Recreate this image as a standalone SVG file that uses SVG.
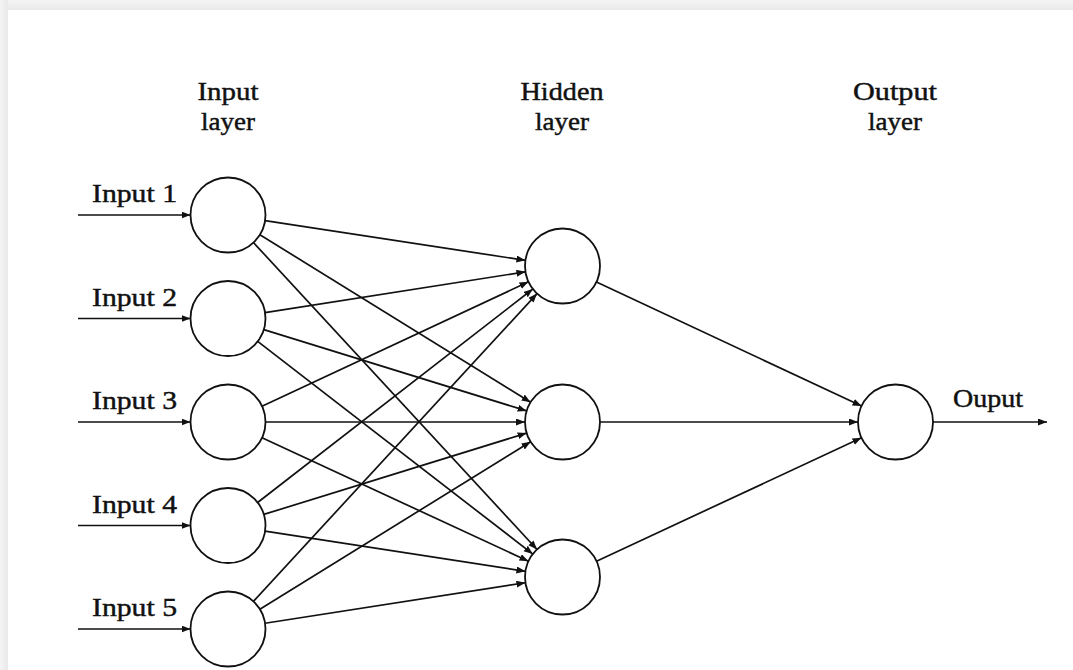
<svg xmlns="http://www.w3.org/2000/svg" width="1073" height="670" viewBox="0 0 1073 670">
  <defs>
    <marker id="tip" markerUnits="userSpaceOnUse" markerWidth="10" markerHeight="8" refX="9" refY="3.5" orient="auto">
      <path d="M0,0 L9,3.5 L0,7 Z" fill="#111"/>
    </marker>
    <linearGradient id="topEdge" x1="0" y1="0" x2="0" y2="1">
      <stop offset="0" stop-color="#f4f4f4"/>
      <stop offset="1" stop-color="#e9e9e9"/>
    </linearGradient>
    <linearGradient id="leftEdge" x1="0" y1="0" x2="1" y2="0">
      <stop offset="0" stop-color="#f4f4f4"/>
      <stop offset="1" stop-color="#e9e9e9"/>
    </linearGradient>
  </defs>
  <style>
    .node { fill: #fff; stroke: #111; stroke-width: 1.8; }
    .edge { stroke: #111; stroke-width: 1.7; fill: none; marker-end: url(#tip); }
    .lbl { font-family: "Liberation Serif", "DejaVu Serif", serif; font-size: 26px; fill: #111; stroke: #111; stroke-width: 0.45; }
    .head { text-anchor: middle; }
  </style>

  <!-- page frame -->
  <rect x="0" y="0" width="1073" height="670" fill="#f2f2f2"/>
  <rect x="0" y="0" width="1073" height="10" fill="url(#topEdge)"/>
  <rect x="0" y="0" width="8" height="670" fill="url(#leftEdge)"/>
  <rect x="8" y="10" width="1065" height="660" fill="#ffffff"/>

  <!-- layer headings -->
  <g id="heading-input">
    <text class="lbl head" x="228" y="100" textLength="61" lengthAdjust="spacingAndGlyphs">Input</text>
    <text class="lbl head" x="228" y="130" textLength="54" lengthAdjust="spacingAndGlyphs">layer</text>
  </g>
  <g id="heading-hidden">
    <text class="lbl head" x="562" y="100" textLength="83" lengthAdjust="spacingAndGlyphs">Hidden</text>
    <text class="lbl head" x="562" y="130" textLength="54" lengthAdjust="spacingAndGlyphs">layer</text>
  </g>
  <g id="heading-output">
    <text class="lbl head" x="895" y="100" textLength="84" lengthAdjust="spacingAndGlyphs">Output</text>
    <text class="lbl head" x="895" y="130" textLength="54" lengthAdjust="spacingAndGlyphs">layer</text>
  </g>

  <!-- connectors -->
  <g id="connectors">
    <!-- external inputs -->
    <line class="edge" x1="78" y1="215" x2="190.5" y2="215"/>
    <line class="edge" x1="78" y1="318.5" x2="190.5" y2="318.5"/>
    <line class="edge" x1="78" y1="422" x2="190.5" y2="422"/>
    <line class="edge" x1="78" y1="525.5" x2="190.5" y2="525.5"/>
    <line class="edge" x1="78" y1="629" x2="190.5" y2="629"/>
    <!-- input 1 -> hidden -->
    <line class="edge" x1="265.07" y1="220.65" x2="525.43" y2="260.35"/>
    <line class="edge" x1="259.89" y1="234.73" x2="530.61" y2="402.27"/>
    <line class="edge" x1="253.45" y1="242.54" x2="537.05" y2="549.46"/>
    <!-- input 2 -> hidden -->
    <line class="edge" x1="265.05" y1="312.69" x2="525.45" y2="271.81"/>
    <line class="edge" x1="263.82" y1="329.58" x2="526.68" y2="410.92"/>
    <line class="edge" x1="257.67" y1="341.43" x2="532.83" y2="554.07"/>
    <!-- input 3 -> hidden -->
    <line class="edge" x1="261.99" y1="406.15" x2="528.51" y2="281.85"/>
    <line class="edge" x1="265.5" y1="422" x2="525" y2="422"/>
    <line class="edge" x1="262.02" y1="437.77" x2="528.48" y2="561.23"/>
    <!-- input 4 -> hidden -->
    <line class="edge" x1="257.63" y1="502.51" x2="532.87" y2="288.99"/>
    <line class="edge" x1="263.82" y1="514.42" x2="526.68" y2="433.08"/>
    <line class="edge" x1="265.06" y1="531.21" x2="525.44" y2="571.29"/>
    <!-- input 5 -> hidden -->
    <line class="edge" x1="253.41" y1="601.42" x2="537.09" y2="293.58"/>
    <line class="edge" x1="259.89" y1="609.27" x2="530.61" y2="441.73"/>
    <line class="edge" x1="265.05" y1="623.24" x2="525.45" y2="582.76"/>
    <!-- hidden -> output -->
    <line class="edge" x1="596.46" y1="281.91" x2="861.54" y2="406.09"/>
    <line class="edge" x1="600" y1="422" x2="858" y2="422"/>
    <line class="edge" x1="596.5" y1="561.18" x2="861.5" y2="437.82"/>
    <!-- final output -->
    <line class="edge" x1="933" y1="422" x2="1047" y2="422"/>
  </g>

  <!-- input layer -->
  <g id="input-1">
    <circle class="node" cx="228" cy="215" r="37.5"/>
    <text class="lbl" x="92" y="202" textLength="85" lengthAdjust="spacingAndGlyphs">Input 1</text>
  </g>
  <g id="input-2">
    <circle class="node" cx="228" cy="318.5" r="37.5"/>
    <text class="lbl" x="92" y="305.5" textLength="85" lengthAdjust="spacingAndGlyphs">Input 2</text>
  </g>
  <g id="input-3">
    <circle class="node" cx="228" cy="422" r="37.5"/>
    <text class="lbl" x="92" y="409" textLength="85" lengthAdjust="spacingAndGlyphs">Input 3</text>
  </g>
  <g id="input-4">
    <circle class="node" cx="228" cy="525.5" r="37.5"/>
    <text class="lbl" x="92" y="512.5" textLength="85" lengthAdjust="spacingAndGlyphs">Input 4</text>
  </g>
  <g id="input-5">
    <circle class="node" cx="228" cy="629" r="37.5"/>
    <text class="lbl" x="92" y="616" textLength="85" lengthAdjust="spacingAndGlyphs">Input 5</text>
  </g>

  <!-- hidden layer -->
  <g id="hidden-1"><circle class="node" cx="562.5" cy="266" r="37.5"/></g>
  <g id="hidden-2"><circle class="node" cx="562.5" cy="422" r="37.5"/></g>
  <g id="hidden-3"><circle class="node" cx="562.5" cy="577" r="37.5"/></g>

  <!-- output layer -->
  <g id="output">
    <circle class="node" cx="895.5" cy="422" r="37.5"/>
    <text class="lbl" x="953" y="407" textLength="70" lengthAdjust="spacingAndGlyphs">Ouput</text>
  </g>
</svg>
